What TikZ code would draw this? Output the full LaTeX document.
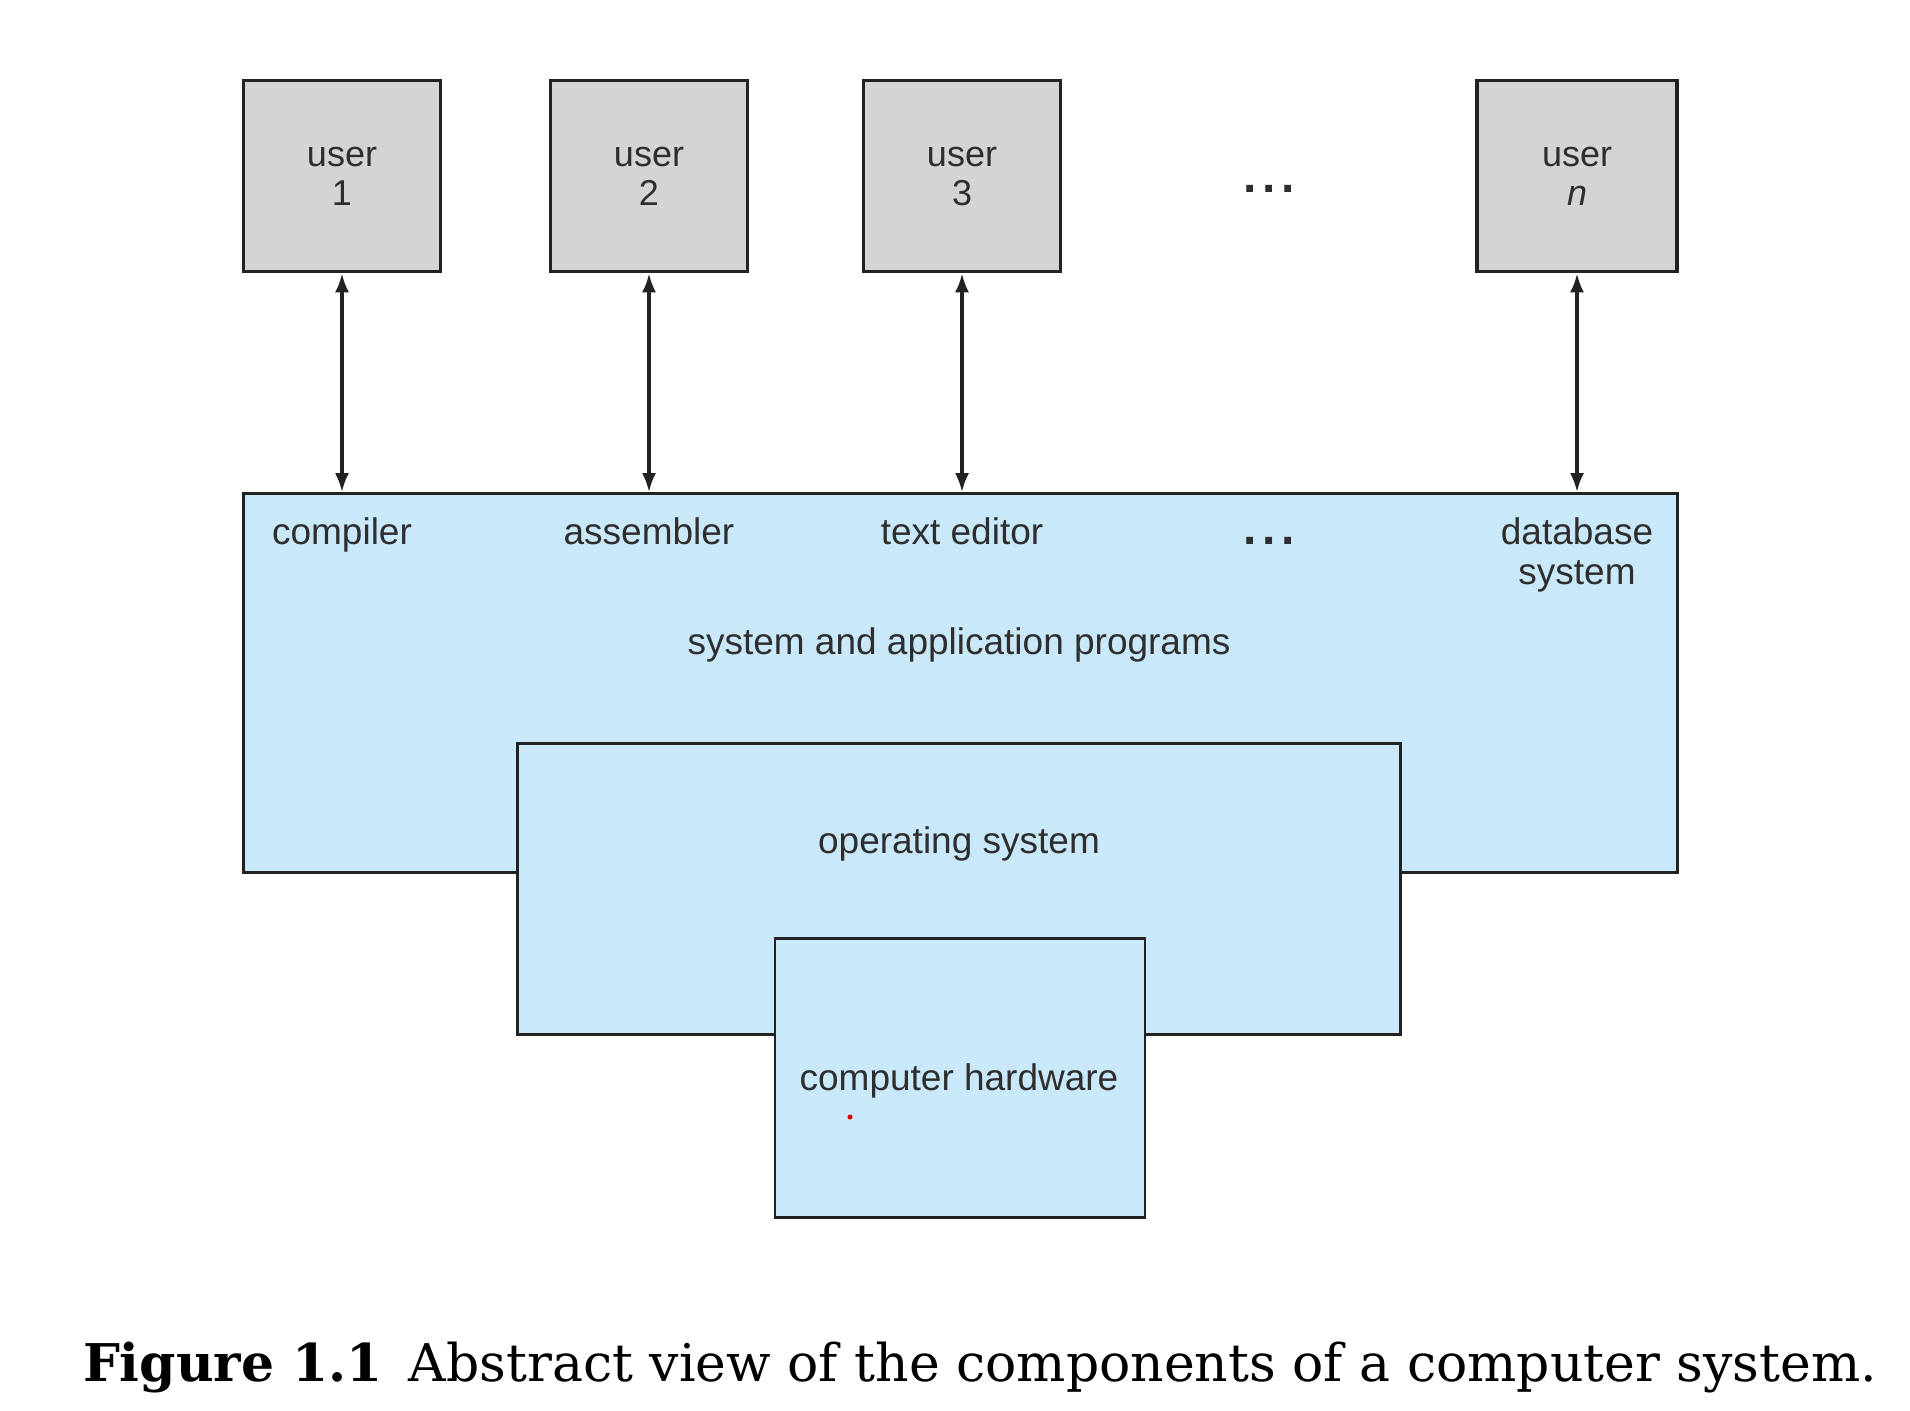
\documentclass[tikz,border=0pt]{standalone}
\usepackage{fontspec}
\setsansfont{Liberation Sans}
\newfontfamily\capfont{DejaVu Serif}
\usetikzlibrary{arrows.meta}
\definecolor{usergray}{HTML}{D4D4D6}
\definecolor{progblue}{HTML}{C9E8F9}
\definecolor{edgegray}{HTML}{222222}
\definecolor{txtgray}{HTML}{2E2E2E}
\tikzset{
  userbox/.style={draw=edgegray, line width=1.8pt, fill=usergray, inner sep=0pt,
    minimum width=98.5pt, minimum height=95.5pt, align=center,
    font=\sffamily\fontsize{18}{19.5}\selectfont, text=txtgray},
  layerbox/.style={draw=edgegray, line width=1.4pt, fill=progblue, inner sep=0pt},
  lbl/.style={font=\sffamily\fontsize{18.5}{20}\selectfont, text=txtgray, inner sep=0pt, align=center},
  link/.style={line width=1.6pt, draw=edgegray, {Latex[length=9.5pt,width=7pt]}-{Latex[length=9.5pt,width=7pt]}},
  dotsstyle/.style={font=\sffamily\bfseries\fontsize{24}{24}\selectfont, text=txtgray, inner sep=0pt, anchor=base}
}
\begin{document}
\begin{tikzpicture}[x=0.5pt,y=-0.5pt]
\useasboundingbox (0,0) rectangle (1910,1410);
% users
\node[userbox] (u1) at (342,176) {user\\1};
\node[userbox] (u2) at (649,176) {user\\2};
\node[userbox] (u3) at (962,176) {user\\3};
\node[userbox, minimum width=100pt] (un) at (1577,176) {user\\\textit{n}};
\node[dotsstyle] (udots) at (1269,192) {.\kern3pt.\kern3pt.};
% layers
\node[layerbox, minimum width=716.7pt, minimum height=189.5pt] (prog) at (960.5,683) {};
\node[layerbox, minimum width=441.7pt, minimum height=145.2pt] (os) at (959,889) {};
\node[layerbox, minimum width=185pt, minimum height=139.3pt] (hw) at (960,1078) {};
% labels
\node[lbl, anchor=base] (lcomp) at (342,544) {compiler};
\node[lbl, anchor=base] (lasm) at (649,544) {assembler};
\node[lbl, anchor=base] (ledit) at (962,544) {text editor};
\node[dotsstyle] (pdots) at (1269,544) {.\kern3pt.\kern3pt.};
\node[lbl, anchor=base] (ldb) at (1577,544) {database};
\node[lbl, anchor=base] (ldb2) at (1577,584) {system};
\node[lbl] (lprog) at (959,645) {system and application programs};
\node[lbl] (los) at (959,844) {operating system};
\node[lbl] (lhw) at (959,1081) {computer hardware};
\fill[red!85!black] (850,1117) circle (2.5);
% arrows
\draw[link] (u1.south) -- (u1.south |- prog.north);
\draw[link] (u2.south) -- (u2.south |- prog.north);
\draw[link] (u3.south) -- (u3.south |- prog.north);
\draw[link] (un.south) -- (un.south |- prog.north);
% caption
\node[inner sep=0pt, font=\capfont\fontsize{26}{30}\selectfont] (cap) at (980,1367)
  {\textbf{Figure 1.1}\hspace{0.5em}Abstract view of the components of a computer system.};
\end{tikzpicture}
\end{document}
